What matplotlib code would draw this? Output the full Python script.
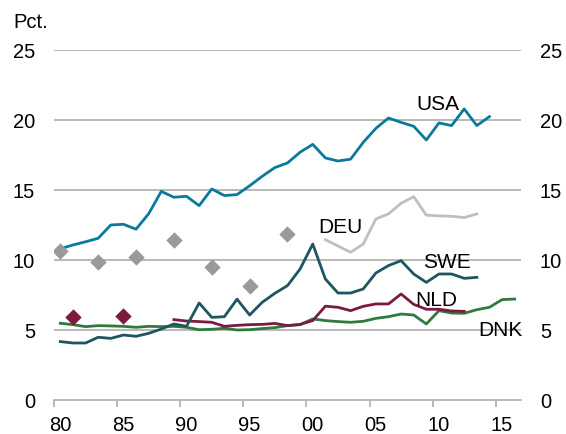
import matplotlib
matplotlib.use("Agg")
import matplotlib.pyplot as plt
import numpy as np

plt.rcParams['font.family'] = ['Liberation Sans', 'DejaVu Sans']

usa_years = list(range(1980, 2015))
usa = [10.8, 11.07, 11.3, 11.55, 12.5, 12.55, 12.2, 13.3, 14.9, 14.48, 14.55, 13.88,
       15.07, 14.6, 14.67, 15.3, 15.98, 16.6, 16.93, 17.7, 18.26, 17.29, 17.07, 17.2,
       18.4, 19.4, 20.14, 19.83, 19.55, 18.57, 19.79, 19.6, 20.79, 19.6, 20.24]

deu_years = list(range(2001, 2014))
deu = [11.45, 11.0, 10.55, 11.14, 12.93, 13.29, 14.05, 14.52, 13.2, 13.15, 13.12, 13.03, 13.29]

deu_pts_years = [1980, 1983, 1986, 1989, 1992, 1995, 1998]
deu_pts = [10.67, 9.83, 10.24, 11.45, 9.48, 8.17, 11.86]

swe_years = list(range(1980, 2014))
swe = [4.17, 4.07, 4.07, 4.48, 4.4, 4.64, 4.55, 4.76, 5.07, 5.43, 5.26, 6.93, 5.9, 5.95,
       7.2, 6.07, 6.98, 7.62, 8.17, 9.36, 11.14, 8.64, 7.64, 7.64, 7.93, 9.07, 9.6, 9.95,
       9.0, 8.4, 9.0, 9.0, 8.69, 8.76]

nld_years = list(range(1989, 2013))
nld = [5.74, 5.64, 5.6, 5.55, 5.26, 5.33, 5.38, 5.4, 5.47, 5.31, 5.4, 5.67, 6.7, 6.62,
       6.38, 6.69, 6.86, 6.86, 7.57, 6.83, 6.48, 6.48, 6.36, 6.33]

nld_pts_years = [1981, 1985]
nld_pts = [5.9, 5.98]

dnk_years = list(range(1980, 2017))
dnk = [5.48, 5.38, 5.24, 5.31, 5.29, 5.26, 5.19, 5.26, 5.24, 5.26, 5.19, 5.02, 5.05,
       5.12, 5.0, 5.02, 5.1, 5.17, 5.31, 5.38, 5.79, 5.67, 5.6, 5.55, 5.62, 5.83, 5.95,
       6.14, 6.07, 5.43, 6.38, 6.21, 6.19, 6.45, 6.62, 7.17, 7.21]

tick_years = [1980, 1985, 1990, 1995, 2000, 2005, 2010, 2015]
tick_labels = ['80', '85', '90', '95', '00', '05', '10', '15']
y_ticks = [0, 5, 10, 15, 20, 25]

c_usa = '#0a7a9c'
c_deu = '#bfbfbf'
c_deu_pts = '#9a9a9a'
c_swe = '#1d5560'
c_nld = '#7b1b3f'
c_dnk = '#2f7a3c'
c_grid = '#b3b3b3'

fig = plt.figure(figsize=(5.66, 4.35), dpi=100)
ax = fig.add_axes([0.0954, 0.0782, 0.9205 - 0.0954, 0.8828 - 0.0782])

for y in y_ticks[1:]:
    ax.axhline(y, color=c_grid, lw=1.3, zorder=0)

lw = 2.0
ax.plot(dnk_years, dnk, color=c_dnk, lw=lw, zorder=2)
ax.plot(nld_years, nld, color=c_nld, lw=lw, zorder=3)
ax.plot(swe_years, swe, color=c_swe, lw=lw, zorder=3)
ax.plot(deu_years, deu, color=c_deu, lw=lw, zorder=2)
ax.plot(usa_years, usa, color=c_usa, lw=lw, zorder=3)
ax.scatter(deu_pts_years, deu_pts, marker='D', s=70, color=c_deu_pts, lw=0, zorder=4)
ax.scatter(nld_pts_years, nld_pts, marker='D', s=70, color=c_nld, lw=0, zorder=4)

ax.set_xlim(1979.5, 2016.5)
ax.set_ylim(0, 25)

for s in ['top', 'left', 'right']:
    ax.spines[s].set_visible(False)
ax.spines['bottom'].set_color(c_grid)
ax.spines['bottom'].set_linewidth(1.3)

ax.set_xticks(tick_years)
ax.set_xticklabels(tick_labels, fontsize=14.5)
ax.set_xticks([t - 0.5 for t in tick_years], minor=True)
ax.tick_params(axis='x', which='major', length=0, pad=11)
ax.tick_params(axis='x', which='minor', length=5, width=1.3, color=c_grid)

ax.set_yticks(y_ticks)
ax.set_yticklabels([str(v) for v in y_ticks], fontsize=14.5)
ax.tick_params(axis='y', which='both', length=0, pad=13.5, labelleft=True, labelright=True)

fig.text(13 / 566, 1 - 22 / 435, 'Pct.', fontsize=14.5, va='center', ha='left')

ax.text(2009.9, 21.2, 'USA', fontsize=15, ha='center', va='center')
ax.text(2002.2, 12.4, 'DEU', fontsize=15, ha='center', va='center')
ax.text(2010.6, 9.9, 'SWE', fontsize=15, ha='center', va='center')
ax.text(2009.8, 7.2, 'NLD', fontsize=15, ha='center', va='center')
ax.text(2014.9, 5.0, 'DNK', fontsize=15, ha='center', va='center')

fig.savefig('out.png', dpi=100)
